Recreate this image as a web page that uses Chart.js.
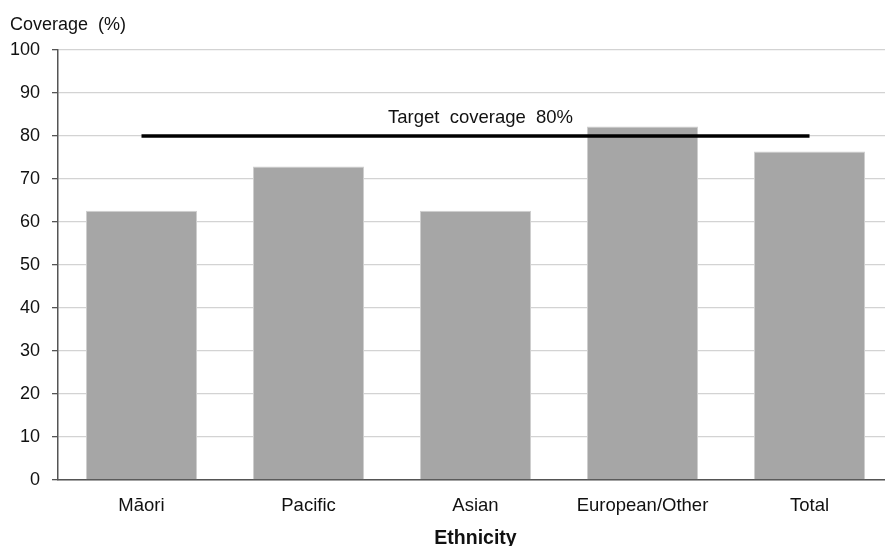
<!DOCTYPE html>
<html>
<head>
<meta charset="utf-8">
<script src="https://cdn.jsdelivr.net/npm/chart.js@4/dist/chart.umd.min.js"></script>
<style>
  html, body { margin: 0; padding: 0; background: #fff; overflow: hidden; }
  #wrap { position: absolute; left: 0; top: 0; width: 895px; height: 546px; }
</style>
</head>
<body>
<div id="wrap"><canvas id="chart"></canvas></div>
<script>
// --- Chart data ---
const CATEGORIES = ['Māori', 'Pacific', 'Asian', 'European/Other', 'Total'];
const COVERAGE = [62.6, 72.9, 62.6, 82.2, 76.4];
const TARGET = [80, 80, 80, 80, 80];
const TARGET_LABEL = 'Target coverage 80%';
const Y_TICKS = [0, 10, 20, 30, 40, 50, 60, 70, 80, 90, 100];

const FONT = '"Liberation Sans", Arial, sans-serif';

// draws the horizontal y title and the target label
const extraText = {
  id: 'extraText',
  afterDraw(chart) {
    const { ctx, scales } = chart;
    ctx.save();
    ctx.fillStyle = '#111';
    ctx.font = '18px ' + FONT;
    ctx.textBaseline = 'middle';
    ctx.textAlign = 'left';
    ctx.fillText('Coverage  (%)', 10, 25);
    // label sits just above the target line, centred between first and last category
    const x0 = scales.x.getPixelForValue(0);
    const x1 = scales.x.getPixelForValue(TARGET.length - 1);
    const y = scales.y.getPixelForValue(TARGET[0]);
    ctx.textAlign = 'center';
    ctx.font = '18.5px ' + FONT;
    ctx.fillText(TARGET_LABEL.split(' ').join('  '), (x0 + x1) / 2 + 5, y - 18);
    ctx.restore();
  }
};

new Chart(document.getElementById('chart'), {
  data: {
    labels: CATEGORIES,
    datasets: [
      {
        type: 'line',
        data: TARGET,
        borderColor: '#000',
        borderWidth: 3.5,
        pointRadius: 0,
        order: 0
      },
      {
        type: 'bar',
        data: COVERAGE,
        backgroundColor: '#a6a6a6',
        borderColor: '#cfcfcf',
        borderWidth: 1,
        categoryPercentage: 1,
        barPercentage: 0.665,
        order: 1
      }
    ]
  },
  options: {
    responsive: true,
    maintainAspectRatio: false,
    animation: false,
    layout: { padding: { top: 50, left: 0, right: 2, bottom: 0 } },
    plugins: { legend: { display: false }, tooltip: { enabled: false } },
    scales: {
      x: {
        grid: { display: false },
        border: { display: true, color: '#555', width: 1.5 },
        ticks: { color: '#111', font: { family: FONT, size: 18.5 }, padding: 7, maxRotation: 0 },
        title: { display: true, text: 'Ethnicity', color: '#111', font: { family: FONT, size: 19.5, weight: 'bold' }, padding: { top: 12, bottom: -4 } },
        afterFit(scale) { scale.height = 66; }
      },
      y: {
        min: 0,
        max: 100,
        afterBuildTicks(scale) { scale.ticks = Y_TICKS.map(v => ({ value: v })); },
        grid: { color: '#d3d3d3', lineWidth: 1.3, tickLength: 6, tickColor: '#555', drawTicks: true },
        border: { display: true, color: '#555', width: 1.5 },
        ticks: { color: '#111', font: { family: FONT, size: 18 }, padding: 12 },
        afterFit(scale) { scale.width = 58; }
      }
    }
  },
  plugins: [extraText]
});
</script>
</body>
</html>
